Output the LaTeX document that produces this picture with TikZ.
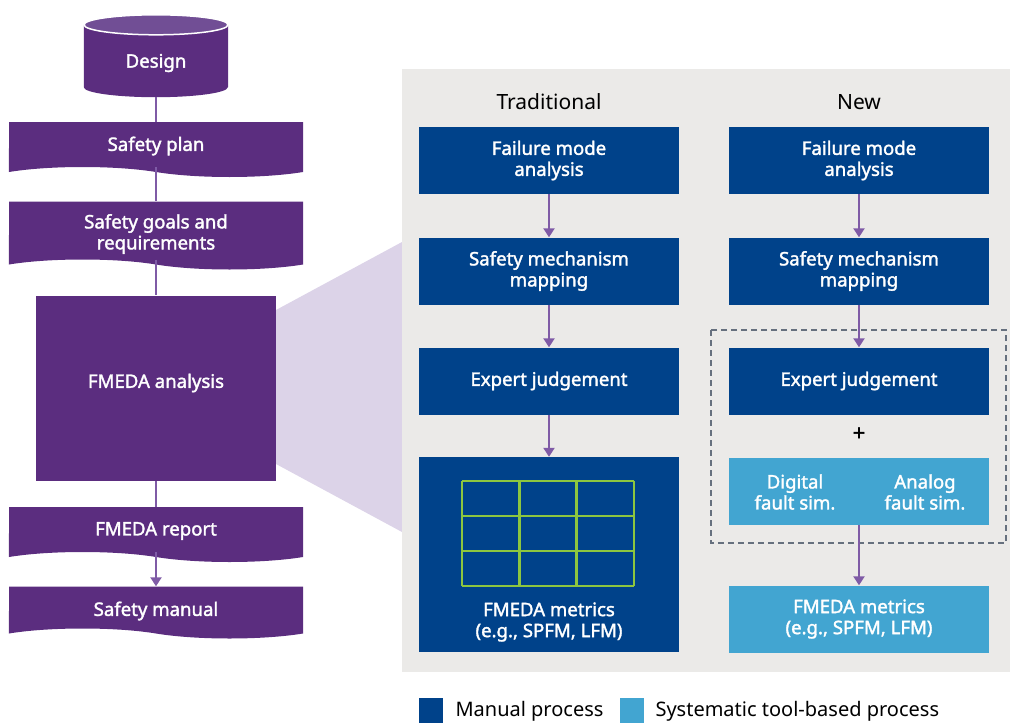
\documentclass[tikz,border=0pt]{standalone}
\usepackage{fontspec}
\setmainfont{Noto Sans}[AutoFakeBold=1.8]
\usetikzlibrary{positioning,shapes.symbols,arrows.meta}

\definecolor{fmPurple}{HTML}{5B2D7F}
\definecolor{fmPurpleTop}{HTML}{714E95}
\definecolor{fmLine}{HTML}{7F5BA6}
\definecolor{fmLavender}{HTML}{DCD3E8}
\definecolor{fmPanel}{HTML}{EBEAE8}
\definecolor{fmDark}{HTML}{00428A}
\definecolor{fmLight}{HTML}{42A5D1}
\definecolor{fmGreen}{HTML}{8DC63F}
\definecolor{fmDash}{HTML}{66707E}

\newcommand\fmboxfont{\fontsize{18.6}{21}\selectfont\bfseries}
\newcommand\fmheadfont{\fontsize{20}{22}\selectfont}

\begin{document}
\begin{tikzpicture}[x=1pt, y=-1pt,
    doc/.style={tape, tape bend top=none, tape bend bottom=out and in,
      tape bend height=10pt, fill=fmPurple, minimum width=294pt, inner sep=0pt},
    procbox/.style={rectangle, fill=#1, text=white, minimum width=260pt,
      minimum height=67pt, inner sep=0pt, align=center, font=\fmboxfont},
    plain/.style={text=white, align=center, font=\fmboxfont, inner sep=0pt},
    link/.style={draw=fmLine, line width=2.5pt},
    flow/.style={link, -{Triangle[width=11pt,length=9pt]}}
  ]
  \useasboundingbox (0,0) rectangle (1010,723);

  % zoom wedge and panel
  \fill[fmLavender] (276,310) -- (402,242) -- (402,532) -- (276,464) -- cycle;
  \fill[fmPanel] (402,69) rectangle (1010,672);

  % left flow
  \node[minimum width=144pt, minimum height=72pt, inner sep=0pt] (design) at (156,61) {};
  \fill[fmPurple] ([yshift=10pt]design.south east) -- (design.north east)
    -- (design.north west) -- ([yshift=10pt]design.south west)
    arc[start angle=180, end angle=360, x radius=72pt, y radius=10pt] -- cycle;
  \fill[fmPurpleTop, draw=white, line width=1.5pt] (design.north)
    ellipse[x radius=72pt, y radius=10pt];
  \node[plain] (designlbl) at (156,63) {Design};

  \node[doc, minimum height=55pt] (plan) at (156,144.5) {};
  \node[doc, minimum height=68pt] (goals) at (156,230.5) {};
  \node[procbox=fmPurple, minimum width=240pt, minimum height=185pt] (fmeda) at (156,388) {};
  \node[doc, minimum height=55pt] (report) at (156,529.5) {};
  \node[doc, minimum height=52pt] (manual) at (156,607.5) {};

  \node[plain] (planlbl) at (156,146) {Safety plan};
  \node[plain] (goalslbl) at (156,234) {Safety goals and\\requirements};
  \node[plain] (fmedalbl) at (156,383) {FMEDA analysis};
  \node[plain] (reportlbl) at (156,531) {FMEDA report};
  \node[plain] (manuallbl) at (156,611) {Safety manual};

  \draw[link] (design.south) -- (plan.north);
  \draw[link] (plan.south) -- (goals.north);
  \draw[link] (goals.south) -- (fmeda.north);
  \draw[link] (fmeda.south) -- (report.north);
  \draw[flow] (report.south) -- (manual.north);

  % traditional column
  \node[font=\fontsize{21}{22}\selectfont] (trad) at (549,102) {Traditional};
  \node[procbox=fmDark] (tfm) at (549,160.5) {Failure mode\\analysis};
  \node[procbox=fmDark] (tsm) at (549,271) {Safety mechanism\\mapping};
  \node[procbox=fmDark] (tej) at (549,381) {Expert judgement};
  \node[procbox=fmDark, minimum height=195pt] (tmet) at (549,554.5) {};
  \node[plain] (tmetlbl) at (549,622) {FMEDA metrics\\(e.g., SPFM, LFM)};
  \foreach \i in {0,...,3} {
    \draw[fmGreen, line width=2.5pt] (462+\i*57.33,481) -- ++(0,105);
    \draw[fmGreen, line width=2.5pt] (462,481+\i*35) -- ++(172,0);
  }
  \draw[flow] (tfm) -- (tsm);
  \draw[flow] (tsm) -- (tej);
  \draw[flow] (tej) -- (tmet);

  % new column
  \node[font=\fontsize{21}{22}\selectfont] (new) at (859,102) {New};
  \node[procbox=fmDark] (nfm) at (859,160.5) {Failure mode\\analysis};
  \node[procbox=fmDark] (nsm) at (859,271) {Safety mechanism\\mapping};
  \node[procbox=fmDark] (nej) at (859,381) {Expert judgement};
  \node[font=\fontsize{22}{22}\selectfont\bfseries] (plus) at (859,434) {+};
  \node[procbox=fmLight] (sim) at (859,491.5) {};
  \node[plain] (digital) at (795,492) {Digital\\fault sim.};
  \node[plain] (analog) at (925,492) {Analog\\fault sim.};
  \node[procbox=fmLight] (nmet) at (859,619) {FMEDA metrics\\(e.g., SPFM, LFM)};
  \draw[fmDash, line width=2.5pt, dash pattern=on 6pt off 4pt] (711,330) rectangle (1006,543);
  \draw[flow] (nfm) -- (nsm);
  \draw[flow] (nsm) -- (nej);
  \draw[flow] (sim) -- (nmet);

  % legend
  \fill[fmDark] (419,698) rectangle (443,723);
  \node[anchor=west, font=\fmheadfont] (manualkey) at (452,711) {Manual process};
  \fill[fmLight] (620,698) rectangle (644,723);
  \node[anchor=west, font=\fmheadfont] (toolkey) at (652,711) {Systematic tool-based process};
\end{tikzpicture}
\end{document}
